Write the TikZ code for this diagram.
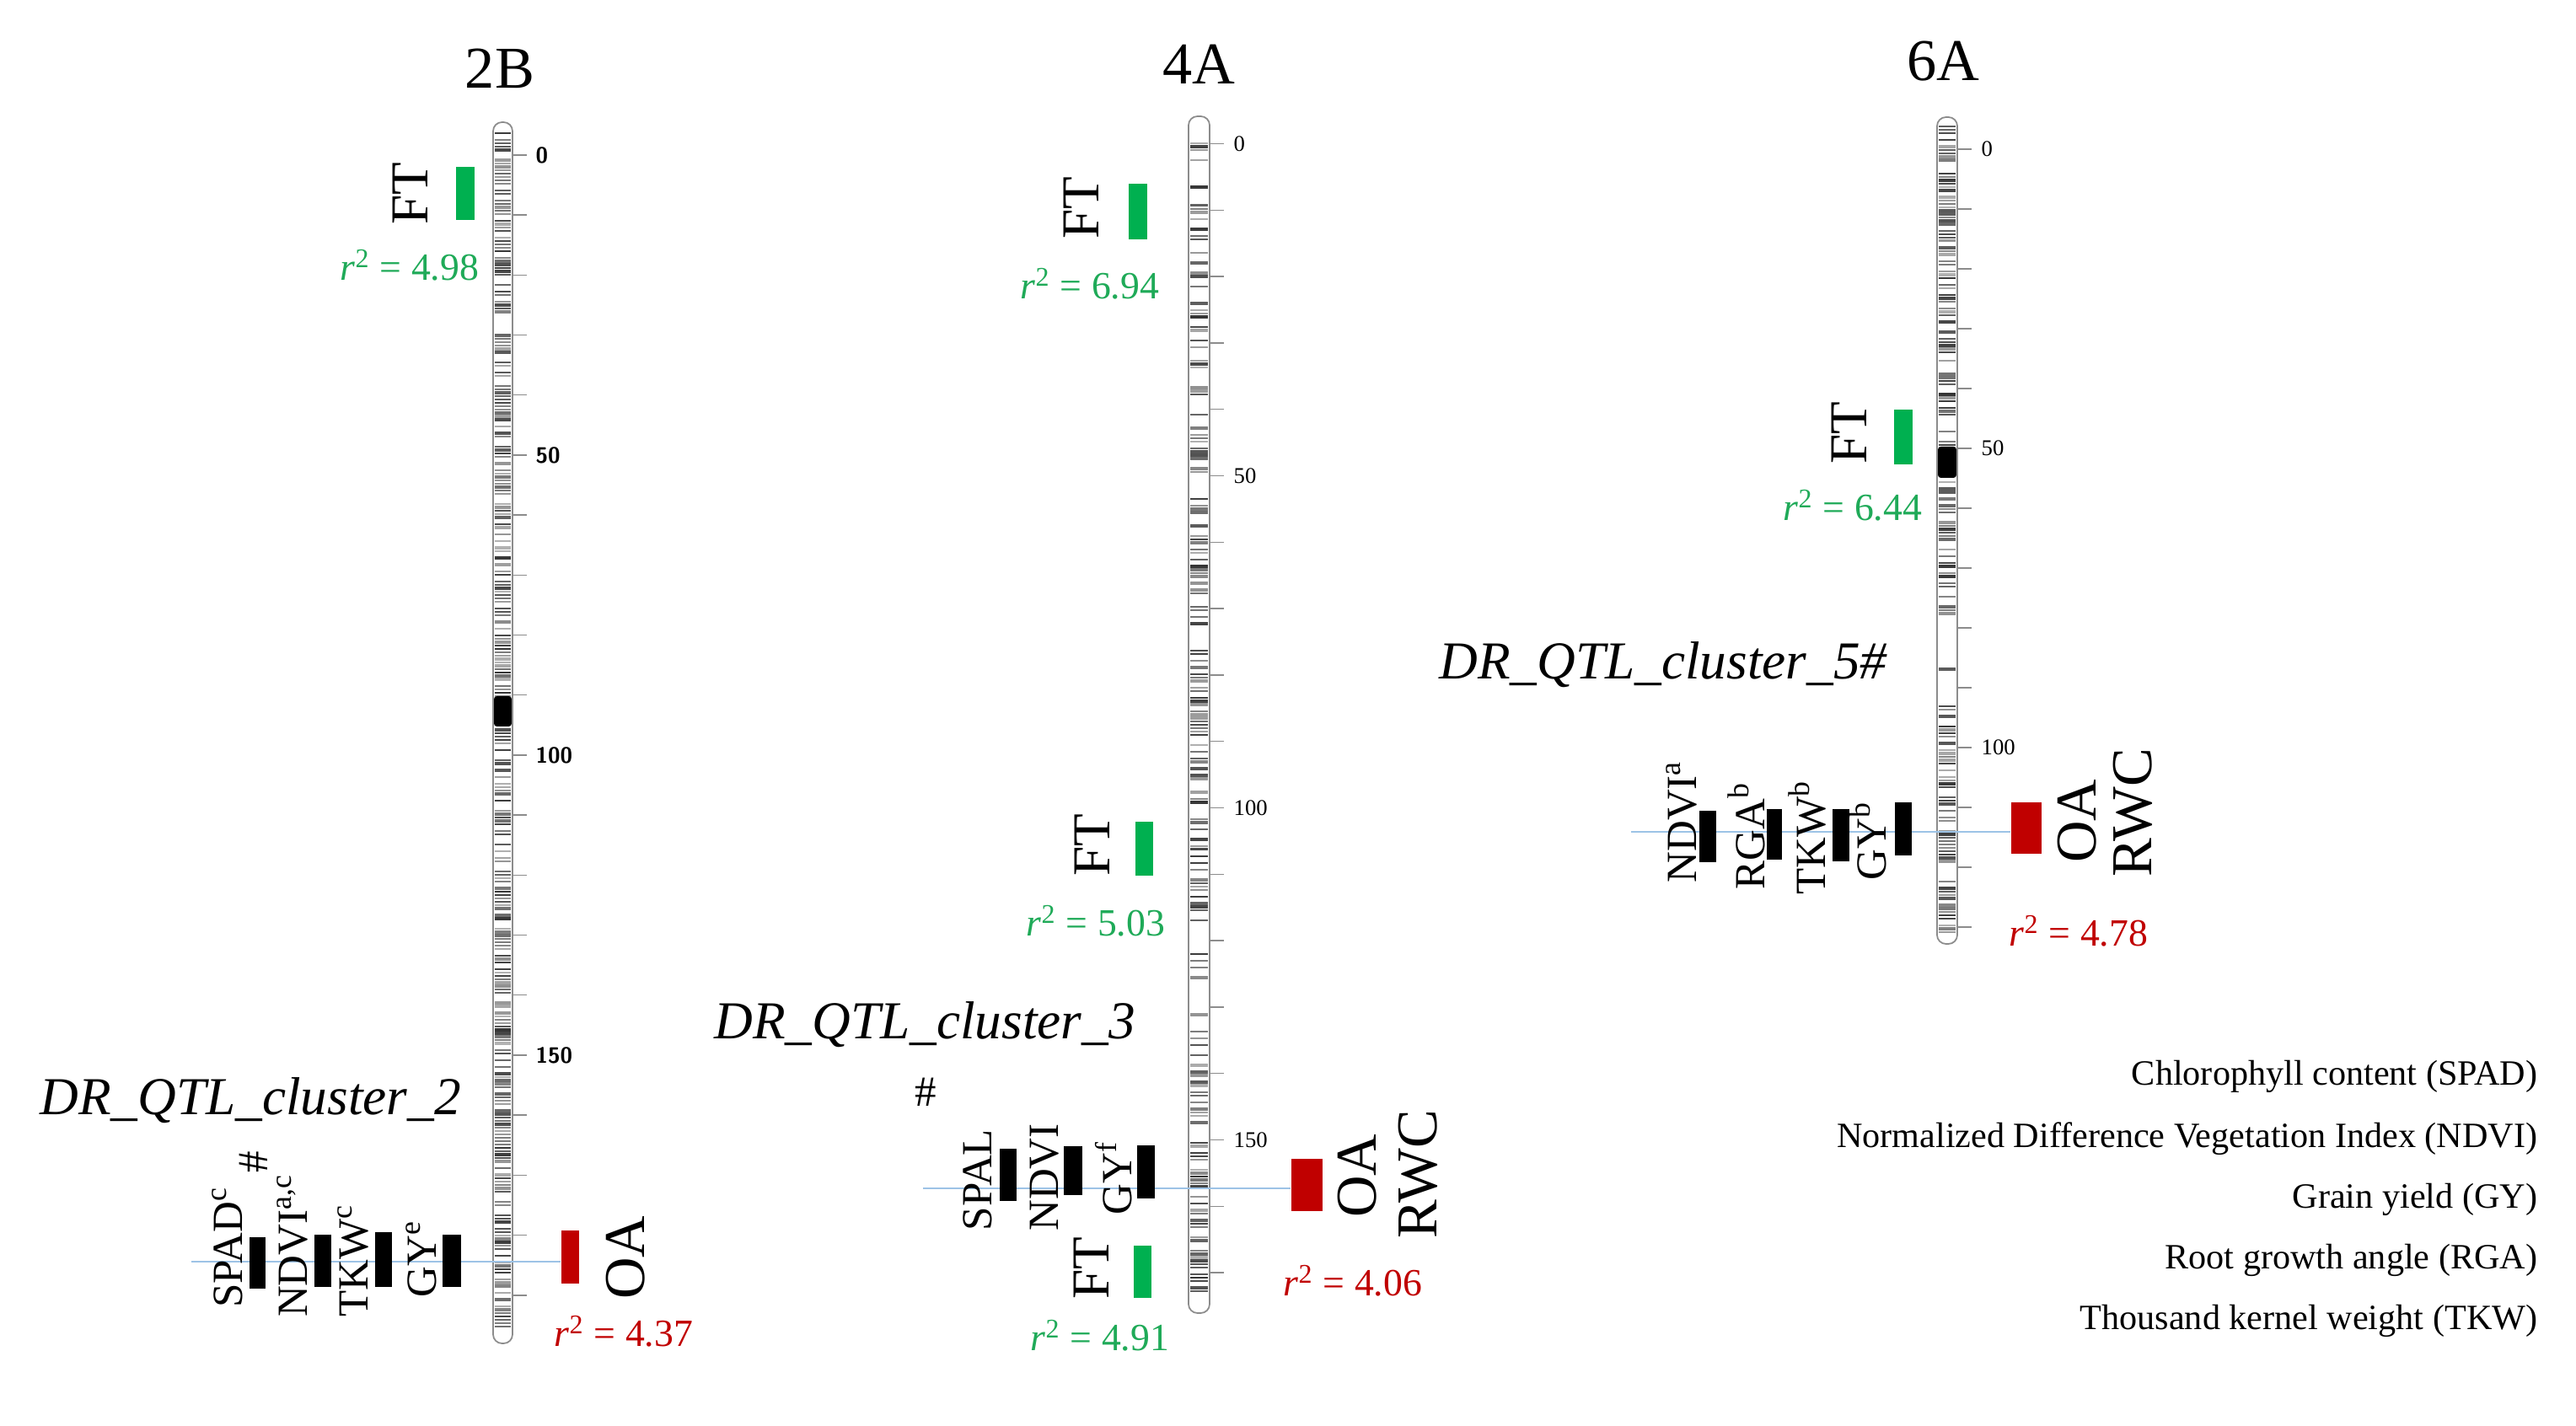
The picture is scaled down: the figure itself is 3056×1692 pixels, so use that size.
\documentclass[tikz,border=0pt]{standalone}
\usepackage{fontspec}
\setmainfont{Liberation Serif}
\definecolor{ftgreen}{HTML}{00B050}
\definecolor{rsqgreen}{HTML}{1FAA58}
\definecolor{oared}{HTML}{C00000}
\definecolor{linkblue}{HTML}{9DC3E6}
\newcommand{\rval}[1]{{\itshape r}\textsuperscript{2} = #1}
\newcommand{\bands}[5]{%
  \pgfmathtruncatemacro{\nb}{(#4-#3)/4}%
  \foreach \k in {0,...,\nb}{%
    \pgfmathsetmacro{\yy}{#3+4*\k}%
    \pgfmathsetmacro{\pp}{rnd}%
    \pgfmathtruncatemacro{\gg}{30+50*rnd}%
    \pgfmathsetmacro{\ww}{0.4+0.7*rnd}%
    \ifdim\pp pt<#5pt\relax
      \draw[black!\gg, line width=\ww pt] (#1,\yy) -- (#2,\yy);
    \fi
  }%
}
\tikzset{
  chromo/.style={draw=black!45, line width=0.5pt, rounded corners=3pt},
  tick/.style={black!45, line width=0.4pt},
  oabox/.style={fill=oared, minimum width=0.21cm, minimum height=0.63cm},
  link/.style={draw=linkblue, line width=0.6pt},
  lab/.style={rotate=90, font=\fontsize{14.5}{16}\selectfont},
  ftlab/.style={rotate=90, font=\fontsize{18}{20}\selectfont},
  biglab/.style={rotate=90, font=\fontsize{19.5}{22}\selectfont},
  rsq/.style={font=\fontsize{13}{15}\selectfont, text=rsqgreen},
  cluster/.style={font=\fontsize{18}{20}\selectfont\itshape},
  title/.style={font=\fontsize{20}{24}\selectfont},
  numB/.style={anchor=west, font=\fontsize{7.5}{8}\selectfont\sffamily\bfseries},
  numA/.style={anchor=west, font=\fontsize{7.6}{9}\selectfont},
  legend/.style={anchor=east, font=\fontsize{12}{14}\selectfont}
}
\begin{document}
\begin{tikzpicture}[x=0.01cm, y=-0.01cm]
\tikzstyle{every node}+=[inner sep=0pt]
\useasboundingbox (0,0) rectangle (3056,1692);
\pgfmathsetseed{11}

\bands{587}{606}{158}{1582}{0.68}
\fill[black, rounded corners=1pt] (586,826) rectangle (607,862);
\draw[chromo] (585,145) rectangle (608,1594);
\foreach \k in {0,...,19} \draw[tick] (608,{184+71.2*\k}) -- ++(17,0);
\foreach \v/\yy in {0/184,50/540,100/896,150/1252} \node[numB] (s2B\v) at (635,\yy) {\v};

\bands{1412}{1433}{150}{240}{0.2}
\bands{1412}{1433}{240}{420}{0.45}
\bands{1412}{1433}{420}{560}{0.55}
\bands{1412}{1433}{560}{620}{0.2}
\bands{1412}{1433}{620}{960}{0.55}
\bands{1412}{1433}{960}{1180}{0.45}
\bands{1412}{1433}{1180}{1260}{0.25}
\bands{1412}{1433}{1260}{1546}{0.65}
\draw[chromo] (1410,138) rectangle (1435,1558);
\foreach \k in {0,...,17} \draw[tick] (1435,{170.5+78.8*\k}) -- ++(17,0);
\foreach \v/\yy in {0/170.5,50/564.5,100/958.5,150/1352.5} \node[numA] (s4A\v) at (1463,\yy) {\v};

\bands{2300}{2320}{150}{420}{0.75}
\bands{2300}{2320}{420}{730}{0.6}
\bands{2300}{2320}{730}{830}{0.08}
\bands{2300}{2320}{830}{1108}{0.7}
\fill[black, rounded corners=1pt] (2299,530) rectangle (2321,567);
\draw[chromo] (2298,139) rectangle (2322,1120);
\foreach \k in {0,...,13} \draw[tick] (2322,{177+71*\k}) -- ++(17,0);
\foreach \v/\yy in {0/177,50/532,100/887} \node[numA] (s6A\v) at (2350,\yy) {\v};

\node[title] (t2B) at (593,81) {2B};
\fill[ftgreen] (541,198) rectangle (563,261);
\node[ftlab] (ft2B) at (487,230) {FT};
\node[rsq] (r2Ba) at (486,315) {\rval{4.98}};
\node[cluster] (c2) at (297,1306) {DR\_QTL\_cluster\_2};
\node[lab] (h2) at (301,1379) {\#};
\coordinate (l2B) at (227,1497);
\node[oabox] (oa2B) at (676.5,1491.5) {};
\draw[link] (l2B) -- (l2B -| oa2B.west);
\fill (296,1468) rectangle (315,1529);
\fill (373,1465) rectangle (393,1527);
\fill (445,1462) rectangle (465,1527);
\fill (525,1465) rectangle (547,1527);
\node[lab] (spad2B) at (270,1480) {SPAD\textsuperscript{c}};
\node[lab] (ndvi2B) at (347,1478) {NDVI\textsuperscript{a,c}};
\node[lab] (tkw2B) at (419,1496) {TKW\textsuperscript{c}};
\node[lab] (gy2B) at (500,1494) {GY\textsuperscript{e}};
\node[biglab] (oat2B) at (742,1492) {OA};
\node[rsq, text=oared] (r2Bb) at (740,1580) {\rval{4.37}};

\node[title] (t4A) at (1422,76) {4A};
\fill[ftgreen] (1339,218) rectangle (1361,284);
\node[ftlab] (ft4Aa) at (1283,247) {FT};
\node[rsq] (r4Aa) at (1293,337) {\rval{6.94}};
\fill[ftgreen] (1347,975) rectangle (1368,1039);
\node[ftlab] (ft4Ab) at (1296,1003) {FT};
\node[rsq] (r4Ab) at (1300,1093) {\rval{5.03}};
\node[cluster] (c3) at (1097,1216) {DR\_QTL\_cluster\_3};
\node[font=\fontsize{14.5}{16}\selectfont] (h3) at (1098,1296) {\#};
\coordinate (l4A) at (1095,1410);
\node[oabox, minimum width=0.37cm, minimum height=0.62cm] (oa4A) at (1550.5,1406) {};
\draw[link] (l4A) -- (l4A -| oa4A.west);
\fill (1186,1363) rectangle (1206,1425);
\fill (1262,1360) rectangle (1284,1418);
\fill (1349,1359) rectangle (1370,1422);
\node[lab] (spad4A) at (1160,1400) {SPAL};
\node[lab] (ndvi4A) at (1239,1397) {NDVI};
\node[lab] (gy4A) at (1321,1398) {GY\textsuperscript{f}};
\fill[ftgreen] (1345,1478) rectangle (1366,1540);
\node[ftlab] (ft4Ac) at (1295,1505) {FT};
\node[rsq] (r4Ac) at (1305,1585) {\rval{4.91}};
\node[biglab] (oat4A) at (1610,1395) {OA};
\node[biglab] (rwc4A) at (1682,1393) {RWC};
\node[rsq, text=oared] (r4Ad) at (1605,1520) {\rval{4.06}};

\node[title] (t6A) at (2305,73) {6A};
\fill[ftgreen] (2247,486) rectangle (2269,551);
\node[ftlab] (ft6A) at (2194,514) {FT};
\node[rsq] (r6Aa) at (2198,600) {\rval{6.44}};
\node[cluster] (c5) at (1973,789) {DR\_QTL\_cluster\_5\#};
\coordinate (l6A) at (1935,987);
\node[oabox, minimum width=0.36cm, minimum height=0.61cm] (oa6A) at (2404,982.5) {};
\draw[link] (l6A) -- (l6A -| oa6A.west);
\fill (2016,962) rectangle (2036,1023);
\fill (2096,960) rectangle (2114,1020);
\fill (2174,960) rectangle (2194,1022);
\fill (2248,952) rectangle (2268,1015);
\node[lab] (ndvi6A) at (1995,975) {NDVI\textsuperscript{a}};
\node[lab] (rga6A) at (2072,992) {RGA\textsuperscript{b}};
\node[lab] (tkw6A) at (2144,994) {TKW\textsuperscript{b}};
\node[lab] (gy6A) at (2216,998) {GY\textsuperscript{b}};
\node[biglab] (oat6A) at (2464,974) {OA};
\node[biglab] (rwc6A) at (2530,964) {RWC};
\node[rsq, text=oared] (r6Ab) at (2466,1105) {\rval{4.78}};

\node[legend] (k1) at (3011,1277) {Chlorophyll content (SPAD)};
\node[legend] (k2) at (3011,1351) {Normalized Difference Vegetation Index (NDVI)};
\node[legend] (k3) at (3011,1423) {Grain yield (GY)};
\node[legend] (k4) at (3011,1495) {Root growth angle (RGA)};
\node[legend] (k5) at (3011,1567) {Thousand kernel weight (TKW)};
\end{tikzpicture}
\end{document}
